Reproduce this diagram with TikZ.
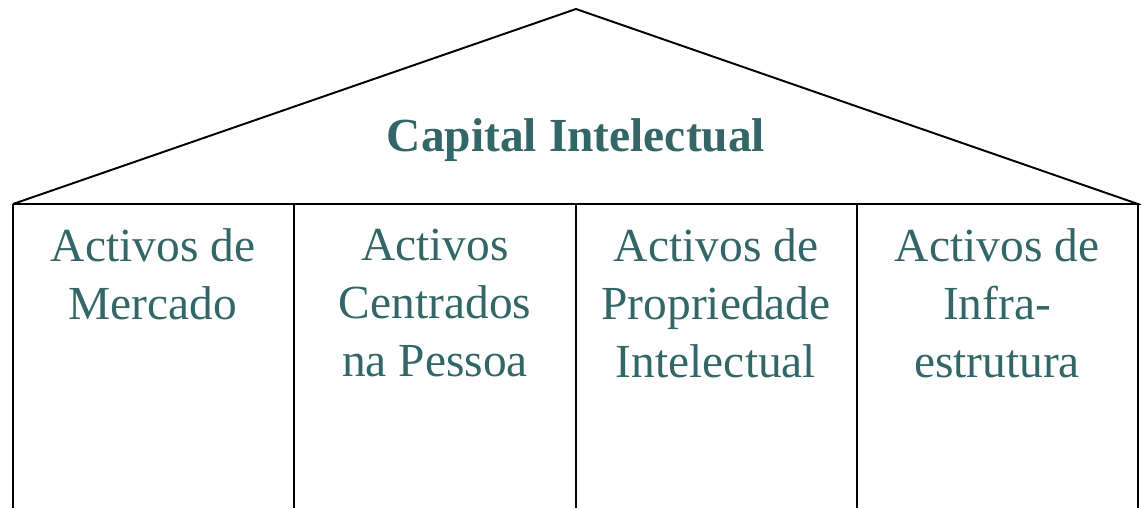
\documentclass[tikz,border=0pt]{standalone}
\usepackage{fontspec}
\setmainfont{Liberation Serif}
\usetikzlibrary{positioning}
\definecolor{tealtext}{HTML}{336666}

\begin{document}
\begin{tikzpicture}[x=0.02cm,y=-0.02cm,line width=1.1pt,
	pilar/.style={text=tealtext,font=\fontsize{27}{33}\selectfont,align=center,anchor=north,inner sep=0pt}]
\useasboundingbox (0,0) rectangle (1141,508);
% telhado
\coordinate (topo) at (576,9);
\coordinate (b0) at (13,204);
\coordinate (b1) at (294,204);
\coordinate (b2) at (576,204);
\coordinate (b3) at (857,204);
\coordinate (b4) at (1138,204);
\coordinate (c0) at (13,508);
\coordinate (c1) at (294,508);
\coordinate (c2) at (576,508);
\coordinate (c3) at (857,508);
\coordinate (c4) at (1138,508);
\draw (b0) -- (topo) -- (b4) -- (b0);
\draw (b0) -- (c0) (b1) -- (c1) (b2) -- (c2) (b3) -- (c3) (b4) -- (c4);
\node[text=tealtext,font=\fontsize{27}{33}\selectfont\bfseries] (capital) at (576,140) {Capital Intelectual};
% pilares
\node[pilar] (mercado) at (153,228) {Activos de\\Mercado};
\node[pilar] (pessoa) at (435,228) {Activos\\Centrados\\na Pessoa};
\node[pilar] (propriedade) at (716,228) {Activos de\\Propriedade\\Intelectual};
\node[pilar] (infra) at (997,228) {Activos de\\Infra-\\estrutura};
\end{tikzpicture}
\end{document}
